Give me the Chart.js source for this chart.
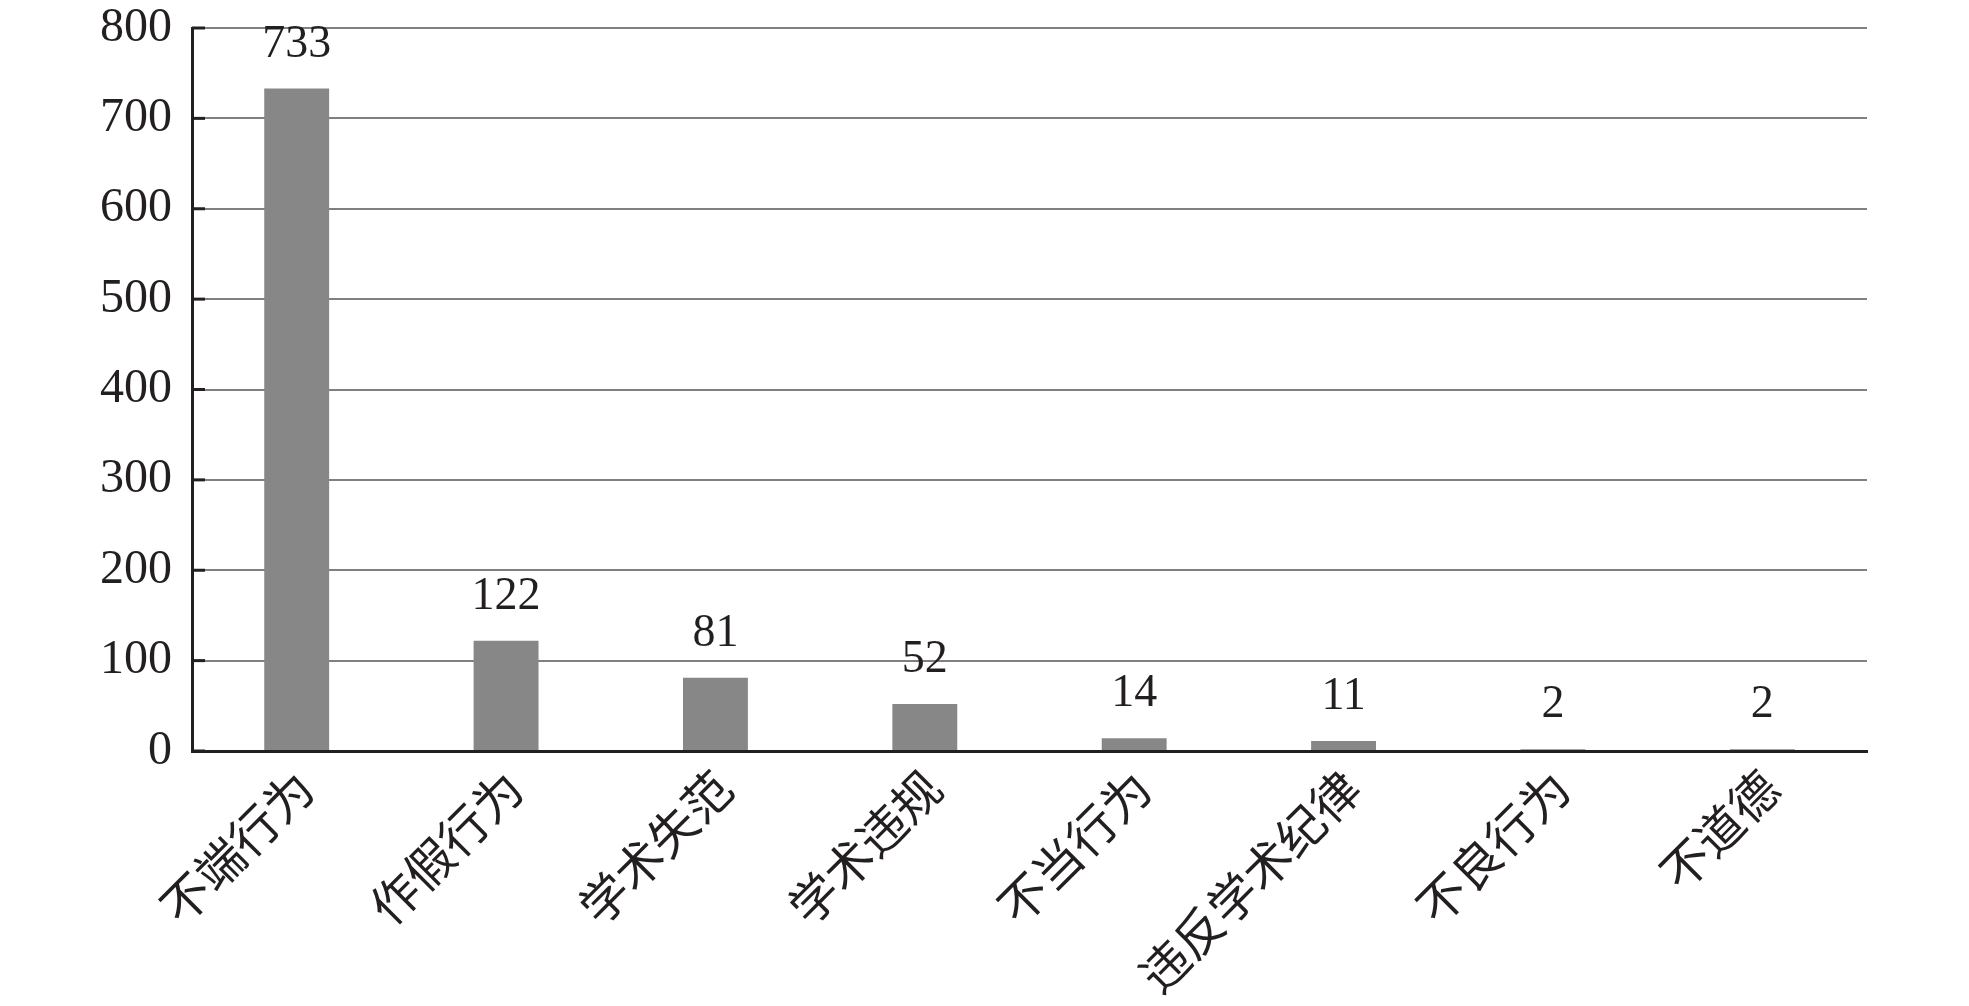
<!DOCTYPE html>
<html>
<head>
<meta charset="utf-8">
<script src="https://cdn.jsdelivr.net/npm/chart.js@4/dist/chart.umd.min.js"></script>
<style>
  body { margin: 0; background: #fff; }
  #wrap { width: 1969px; height: 1006px; }
</style>
</head>
<body>
<div id="wrap"><canvas id="chart" width="1969" height="1006"></canvas></div>
<script>
// categories and counts
var categories = ['不端行为', '作假行为', '学术失范', '学术违规', '不当行为', '违反学术纪律', '不良行为', '不道德'];
var counts = [733, 122, 81, 52, 14, 11, 2, 2];
var yMin = 0, yMax = 800, yStep = 100;

var fontFamily = '"Liberation Serif", "Noto Sans CJK SC", serif';
var textColor = '#231f20';

// short black ticks pointing into the plot, plus value labels over the bars
var extras = {
    id: 'extras',
    afterDatasetsDraw: function (chart) {
        var ctx = chart.ctx;
        var y = chart.scales.y;
        ctx.save();
        ctx.strokeStyle = textColor;
        ctx.lineWidth = 3;
        y.ticks.forEach(function (t) {
            var py = y.getPixelForValue(t.value);
            ctx.beginPath();
            ctx.moveTo(y.right, py);
            ctx.lineTo(y.right + 13, py);
            ctx.stroke();
        });

        ctx.fillStyle = textColor;
        ctx.font = '46px ' + fontFamily;
        ctx.textAlign = 'center';
        ctx.textBaseline = 'alphabetic';
        var meta = chart.getDatasetMeta(0);
        meta.data.forEach(function (bar, i) {
            ctx.fillText(String(counts[i]), bar.x, bar.y - 32);
        });
        ctx.restore();
    }
};

var ctx = document.getElementById('chart').getContext('2d');
var chart = new Chart(ctx, {
    type: 'bar',
    data: {
        labels: categories,
        datasets: [{
            data: counts,
            backgroundColor: '#878787',
            barPercentage: 1,
            categoryPercentage: 0.31
        }]
    },
    options: {
        responsive: false,
        animation: false,
        layout: { padding: { top: 28, right: 102, left: 0, bottom: 0 } },
        plugins: {
            legend: { display: false },
            tooltip: { enabled: false }
        },
        scales: {
            x: {
                grid: { display: false, drawTicks: false },
                border: { display: true, color: textColor, width: 3 },
                ticks: {
                    color: textColor,
                    font: { family: fontFamily, size: 48 },
                    minRotation: 45,
                    maxRotation: 45,
                    padding: 12,
                    labelOffset: 12,
                    autoSkip: false
                },
                afterFit: function (s) { s.height = 255; }
            },
            y: {
                min: yMin,
                max: yMax,
                grid: { color: '#808080', lineWidth: 2, drawTicks: false },
                border: { display: true, color: textColor, width: 3 },
                ticks: {
                    stepSize: yStep,
                    color: textColor,
                    font: { family: fontFamily, size: 48 },
                    padding: 20
                },
                afterFit: function (s) {
                    s.width = 192;
                    s.paddingTop = 0;
                    s.paddingBottom = 0;
                }
            }
        }
    },
    plugins: [extras]
});
</script>
</body>
</html>
